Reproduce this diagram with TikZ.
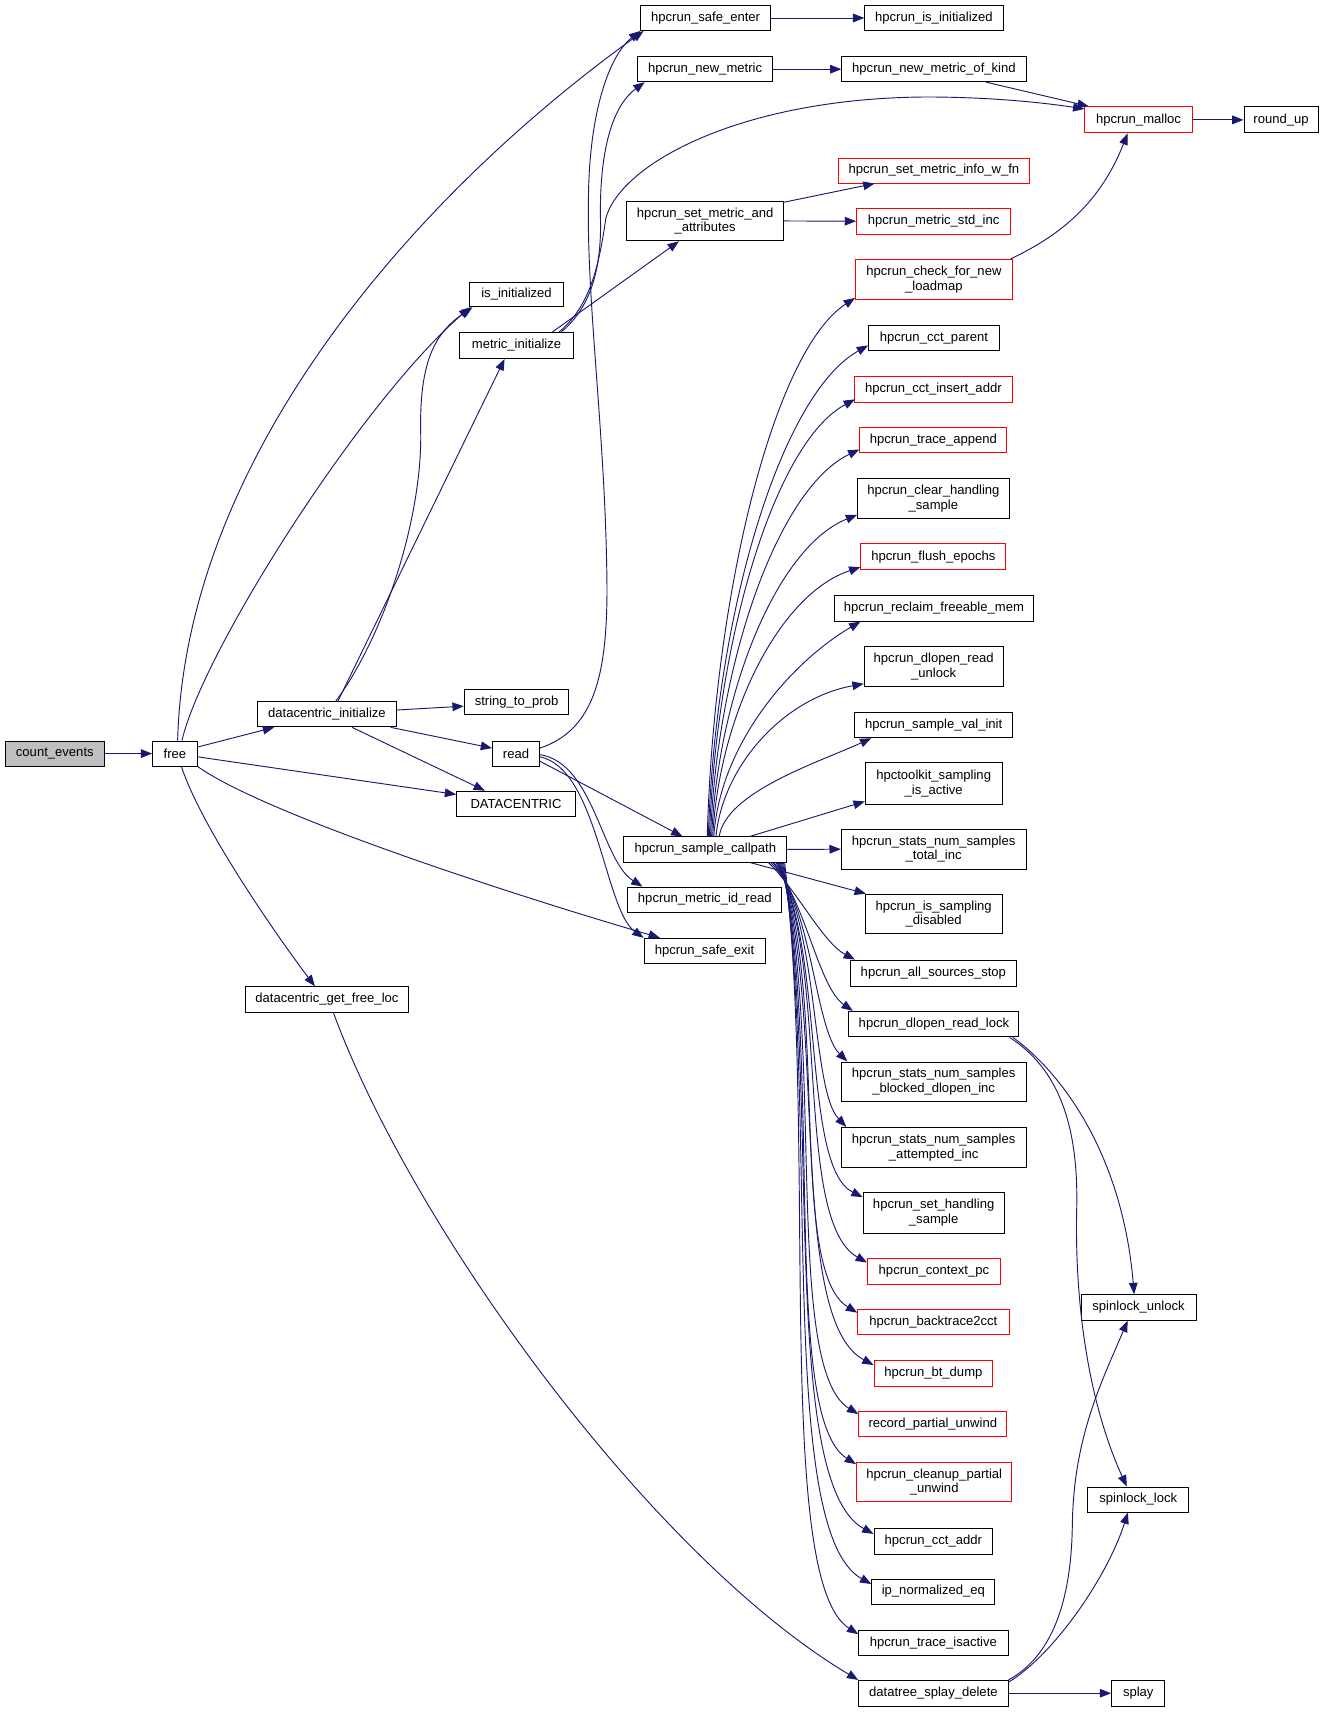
\documentclass[tikz,border=0pt]{standalone}
\usepackage{fontspec}
\setmainfont{Liberation Sans}
\usetikzlibrary{arrows.meta,calc}
\definecolor{edgec}{HTML}{191970}
\definecolor{redc}{HTML}{FF0000}
\definecolor{fillg}{HTML}{BFBFBF}
\tikzset{
  box/.style={rectangle, draw=black, line width=0.7pt, fill=white, inner sep=0pt,
    align=center, font=\fontsize{9.8}{11}\selectfont},
  redbox/.style={draw=redc},
  rootbox/.style={fill=fillg},
  plainbox/.style={},
  edge/.style={draw=edgec, line width=0.7pt, -{Triangle[length=8.5pt,width=6.5pt]}},
}
\newcommand\gn[7]{\node[box,#1,minimum width={(#5-#3)*0.8173pt},minimum height={(#6-#4)*0.8173pt}] (#2) at ({(#3+#5)/2},{(#4+#6)/2}) {#7};}
\begin{document}
\begin{tikzpicture}[x=0.8173pt,y=-0.8173pt]
\useasboundingbox (0,0) rectangle (1215,1571);
% nodes
\gn{rootbox}{ce}{4.6}{680}{96}{703}{count\_events}
\gn{plainbox}{free}{140}{680}{181}{703}{free}
\gn{plainbox}{dci}{236}{644}{364}{667}{datacentric\_initialize}
\gn{plainbox}{stp}{426}{633}{522}{656}{string\_to\_prob}
\gn{plainbox}{rd}{452}{680}{495}{703}{read}
\gn{plainbox}{dc}{419}{726}{528}{749.5}{DATACENTRIC}
\gn{plainbox}{isi}{431}{259}{517}{281.5}{is\_initialized}
\gn{plainbox}{mi}{422}{305}{526}{329}{metric\_initialize}
\gn{plainbox}{dgfl}{225}{905.5}{375}{929}{datacentric\_get\_free\_loc}
\gn{plainbox}{hse}{588}{5}{707}{28}{hpcrun\_safe\_enter}
\gn{plainbox}{hii}{793.5}{5}{920.5}{28}{hpcrun\_is\_initialized}
\gn{plainbox}{hnm}{585}{52}{709}{75}{hpcrun\_new\_metric}
\gn{plainbox}{hnmk}{772.5}{52}{941.5}{75}{hpcrun\_new\_metric\_of\_kind}
\gn{redbox}{hm}{995.5}{98}{1094}{122}{hpcrun\_malloc}
\gn{plainbox}{ru}{1141.5}{98}{1209.5}{122}{round\_up}
\gn{plainbox}{sma}{575}{184.5}{719}{221}{hpcrun\_set\_metric\_and\\\_attributes}
\gn{redbox}{smi}{769}{145}{945}{168}{hpcrun\_set\_metric\_info\_w\_fn}
\gn{redbox}{msi}{786}{191}{927.5}{215}{hpcrun\_metric\_std\_inc}
\gn{redbox}{cfl}{785}{238}{929}{275}{hpcrun\_check\_for\_new\\\_loadmap}
\gn{plainbox}{ccp}{797}{299}{917}{322}{hpcrun\_cct\_parent}
\gn{redbox}{cia}{784}{345}{929}{369}{hpcrun\_cct\_insert\_addr}
\gn{redbox}{ta}{789}{392}{924}{415.5}{hpcrun\_trace\_append}
\gn{plainbox}{chs}{787}{439}{926}{476}{hpcrun\_clear\_handling\\\_sample}
\gn{redbox}{fe}{790}{499}{923}{523}{hpcrun\_flush\_epochs}
\gn{plainbox}{rfm}{766}{546}{948}{570}{hpcrun\_reclaim\_freeable\_mem}
\gn{plainbox}{dru}{793}{593}{920.5}{630}{hpcrun\_dlopen\_read\\\_unlock}
\gn{plainbox}{svi}{784}{654}{929.5}{677}{hpcrun\_sample\_val\_init}
\gn{plainbox}{hsa}{794}{700}{919.5}{738}{hpctoolkit\_sampling\\\_is\_active}
\gn{plainbox}{cp}{572.5}{768}{722}{791}{hpcrun\_sample\_callpath}
\gn{plainbox}{sti}{772}{761}{941.5}{797.5}{hpcrun\_stats\_num\_samples\\\_total\_inc}
\gn{plainbox}{mir}{576}{814}{717.5}{837}{hpcrun\_metric\_id\_read}
\gn{plainbox}{sx}{591}{861}{702}{884}{hpcrun\_safe\_exit}
\gn{plainbox}{isd}{794}{820.5}{919.5}{857}{hpcrun\_is\_sampling\\\_disabled}
\gn{plainbox}{ass}{780}{881}{933}{905}{hpcrun\_all\_sources\_stop}
\gn{plainbox}{drl}{779}{928}{935}{951.5}{hpcrun\_dlopen\_read\_lock}
\gn{plainbox}{sbd}{772}{974.5}{941.5}{1011}{hpcrun\_stats\_num\_samples\\\_blocked\_dlopen\_inc}
\gn{plainbox}{sat}{772}{1034.5}{941.5}{1071.5}{hpcrun\_stats\_num\_samples\\\_attempted\_inc}
\gn{plainbox}{shs}{792}{1094.5}{921.5}{1131.5}{hpcrun\_set\_handling\\\_sample}
\gn{redbox}{cpc}{796}{1155}{918}{1178.5}{hpcrun\_context\_pc}
\gn{redbox}{b2c}{787}{1202}{926}{1225}{hpcrun\_backtrace2cct}
\gn{redbox}{btd}{802}{1248}{911}{1272}{hpcrun\_bt\_dump}
\gn{redbox}{rpu}{788}{1295}{924}{1318.5}{record\_partial\_unwind}
\gn{redbox}{cpu}{786}{1342}{928.5}{1378}{hpcrun\_cleanup\_partial\\\_unwind}
\gn{plainbox}{cca}{802}{1403}{911}{1426}{hpcrun\_cct\_addr}
\gn{plainbox}{ipn}{800}{1449}{913}{1472}{ip\_normalized\_eq}
\gn{plainbox}{tia}{788}{1496}{925}{1519}{hpcrun\_trace\_isactive}
\gn{plainbox}{tsd}{788}{1542}{925}{1565.5}{datatree\_splay\_delete}
\gn{plainbox}{spl}{1020}{1542}{1069}{1565.5}{splay}
\gn{plainbox}{sul}{992}{1188}{1097.5}{1211.5}{spinlock\_unlock}
\gn{plainbox}{slk}{998}{1364.5}{1091}{1387.5}{spinlock\_lock}
% edges
\draw[edge] (ce.east) -- (free.west);
\draw[edge] ($(free.north)+(2.5,0)$) .. controls (170,420) and (380,180) .. ($(hse.south west)+(3,0)$);
\draw[edge] ($(free.north)+(6.5,0)$) .. controls (185,600) and (330,370) .. ($(isi.south west)+(1,0)$);
\draw[edge] ($(free.east)+(0,-6)$) -- ($(dci.south west)+(16,0)$);
\draw[edge] ($(free.east)+(0,3)$) -- ($(dc.west)+(0,-8.75)$);
\draw[edge] (free.south east) .. controls (240,745) and (450,815) .. ($(sx.north west)+(15,0)$);
\draw[edge] ($(free.south)+(6,0)$) .. controls (185,760) and (255,860) .. ($(dgfl.north)+(-11,0)$);
\draw[edge] ($(dci.north)+(8,0)$) .. controls (355,580) and (388,470) .. (386,395) .. controls (385,330) and (400,305) .. ($(isi.south west)+(3,0)$);
\draw[edge] ($(dci.north)+(10,0)$) -- ($(mi.south)+(-11,0)$);
\draw[edge] ($(dci.east)+(0,-4)$) -- ($(stp.west)+(0,3.5)$);
\draw[edge] ($(dci.south east)+(-6,0)$) -- ($(rd.west)+(0,-5)$);
\draw[edge] ($(dci.south)+(23,0)$) -- ($(dc.north)+(-28.5,0)$);
\draw[edge] ($(rd.east)+(0,-5)$) .. controls (545,670) and (557,620) .. (557,540) .. controls (556,400) and (538,280) .. (540,180) .. controls (541,100) and (560,50) .. (hse.south west);
\draw[edge] ($(rd.east)+(0,7)$) -- ($(cp.north)+(-21,0)$);
\draw[edge] ($(rd.east)+(0,1)$) .. controls (545,700) and (552,790) .. ($(mir.north west)+(14,0)$);
\draw[edge] ($(rd.east)+(0,3)$) .. controls (548,705) and (555,835) .. (sx.north west);
\draw[edge] ($(mi.north)+(41,0)$) .. controls (545,280) and (552,240) .. (551,200) .. controls (550,130) and (565,95) .. ($(hnm.south west)+(7,0)$);
\draw[edge] ($(mi.north)+(39,0)$) .. controls (543,280) and (550,240) .. (556,200) .. controls (570,150) and (680,90) .. (850,89) .. controls (900,89) and (950,93) .. ($(hm.west)+(0,-10)$);
\draw[edge] ($(mi.north)+(33,0)$) -- ($(sma.south)+(-24,0)$);
\draw[edge] (hse.east) -- (hii.west);
\draw[edge] (hnm.east) -- (hnmk.west);
\draw[edge] ($(hnmk.south)+(48,0)$) -- ($(hm.north west)+(4,0)$);
\draw[edge] (hm.east) -- (ru.west);
\draw[edge] ($(sma.north east)+(0,1.5)$) -- ($(smi.south west)+(34,0)$);
\draw[edge] (sma.east) -- (msi.west);
\draw[edge] ($(cfl.north east)+(-2,0)$) .. controls (975,215) and (1010,185) .. ($(hm.south)+(-10,0)$);
\draw[edge] (cp.east) -- (sti.west);
% callpath upward
\draw[edge] ($(cp.north)+(1.75,0)$) .. controls (655,545) and (710,322) .. ($(cfl.south west)+(0,-2)$);
\draw[edge] ($(cp.north)+(2.75,0)$) .. controls (656,565) and (716,362) .. ($(ccp.west)+(0,6.5)$);
\draw[edge] ($(cp.north)+(3.75,0)$) .. controls (657,587) and (711,406) .. ($(cia.south west)+(1,-3)$);
\draw[edge] ($(cp.north)+(4.75,0)$) .. controls (658,608) and (714,448) .. ($(ta.south west)+(0,-3.5)$);
\draw[edge] ($(cp.north)+(5.75,0)$) .. controls (659,635) and (713,502) .. ($(chs.south west)+(0,-4)$);
\draw[edge] ($(cp.north)+(6.75,0)$) .. controls (660,656) and (715,545) .. ($(fe.south west)+(0,-3)$);
\draw[edge] ($(cp.north)+(7.75,0)$) .. controls (661,679) and (730,605) .. ($(rfm.south west)+(24,0)$);
\draw[edge] ($(cp.north)+(9.75,0)$) .. controls (663,704) and (718,641) .. ($(dru.south west)+(0,-3)$);
\draw[edge] ($(cp.north)+(12.75,0)$) .. controls (666,727) and (750,700) .. ($(svi.south west)+(16,0)$);
\draw[edge] ($(cp.north)+(40.75,0)$) -- ($(hsa.south west)+(0,-3)$);
% callpath downward
\draw[edge] ($(cp.south)+(40.75,0)$) -- ($(isd.north west)+(1,0)$);
\draw[edge] ($(cp.south)+(57.75,0)$) .. controls (730,815) and (755,865) .. ($(ass.north west)+(5,0)$);
\draw[edge] ($(cp.south)+(59.75,0)$) .. controls (738,820) and (750,905) .. ($(drl.north west)+(4,0)$);
\draw[edge] ($(cp.south)+(61.75,0)$) .. controls (745,830) and (748,945) .. ($(sbd.north west)+(6,0)$);
\draw[edge] ($(cp.south)+(62.75,0)$) .. controls (752,845) and (744,1000) .. ($(sat.north west)+(5,0)$);
\draw[edge] ($(cp.south)+(64.75,0)$) .. controls (758,870) and (735,1070) .. ($(shs.north west)+(0,4.5)$);
\draw[edge] ($(cp.south)+(65.75,0)$) .. controls (762,890) and (728,1120) .. ($(cpc.north west)+(0,4)$);
\draw[edge] ($(cp.south)+(66.75,0)$) .. controls (762,910) and (722,1165) .. ($(b2c.north west)+(0,3)$);
\draw[edge] ($(cp.south)+(67.75,0)$) .. controls (760,930) and (722,1210) .. ($(btd.north west)+(0,5)$);
\draw[edge] ($(cp.south)+(68.75,0)$) .. controls (758,950) and (718,1255) .. ($(rpu.north west)+(0,3)$);
\draw[edge] ($(cp.south)+(69.75,0)$) .. controls (756,975) and (716,1300) .. ($(cpu.north west)+(0,2)$);
\draw[edge] ($(cp.south)+(70.75,0)$) .. controls (754,1000) and (714,1360) .. ($(cca.north west)+(0,5)$);
\draw[edge] ($(cp.south)+(71.75,0)$) .. controls (752,1025) and (712,1405) .. ($(ipn.north west)+(0,5)$);
\draw[edge] ($(cp.south)+(72.75,0)$) .. controls (750,1050) and (710,1450) .. ($(tia.north west)+(0,4)$);
% lower part
\draw[edge] ($(dgfl.south)+(6,0)$) .. controls (380,1130) and (600,1430) .. (tsd.north west);
\draw[edge] (tsd.east) -- (spl.west);
\draw[edge] (tsd.north east) .. controls (965,1520) and (983,1470) .. (984,1400) .. controls (985,1320) and (1010,1270) .. ($(sul.south)+(-10,0)$);
\draw[edge] ($(tsd.north east)+(0,2)$) .. controls (965,1520) and (1015,1450) .. ($(slk.south)+(-9.5,0)$);
\draw[edge] ($(drl.south east)+(-6,0)$) .. controls (975,985) and (1030,1060) .. ($(sul.north)+(-4,0)$);
\draw[edge] ($(drl.south east)+(-9,0)$) .. controls (970,980) and (990,1030) .. (988,1110) .. controls (986,1200) and (1000,1290) .. ($(slk.north)+(-10.5,0)$);
\end{tikzpicture}
\end{document}
